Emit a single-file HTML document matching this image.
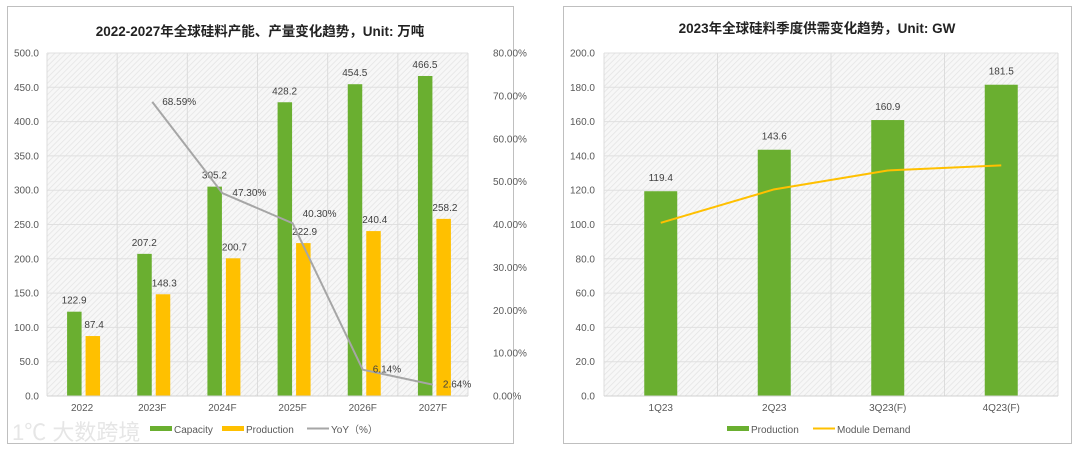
<!DOCTYPE html>
<html><head><meta charset="utf-8"><style>
html,body{margin:0;padding:0;background:#fff;width:1080px;height:451px;overflow:hidden}
svg text{font-family:"Liberation Sans","Noto Sans CJK SC",sans-serif}
</style></head><body>
<svg id="svg" width="1080" height="451" viewBox="0 0 1080 451" xmlns="http://www.w3.org/2000/svg">
<defs>
<pattern id="hatch" width="4" height="4" patternUnits="userSpaceOnUse" patternTransform="rotate(45)">
<rect width="4" height="4" fill="#f7f7f7"/><line x1="0" y1="0" x2="0" y2="4" stroke="#e4e4e4" stroke-width="1.5"/>
</pattern>
</defs>
<rect x="7.5" y="6.5" width="506" height="437" fill="#fff" stroke="#bfbfbf"/>
<rect x="563.5" y="6.5" width="508" height="437" fill="#fff" stroke="#bfbfbf"/>
<text x="260" y="36" text-anchor="middle" font-size="13.5" font-weight="bold" fill="#222">2022-2027年全球硅料产能、产量变化趋势，Unit: 万吨</text>
<text x="817" y="33" text-anchor="middle" font-size="13.5" font-weight="bold" fill="#222">2023年全球硅料季度供需变化趋势，Unit: GW</text>
<g id="left"></g><g id="right"></g>
<text x="12" y="440" font-size="22" fill="#e6e6e6">1℃ 大数跨境</text>
</svg>
<script>
const leftCats=["2022","2023F","2024F","2025F","2026F","2027F"];
const capacity=[122.9,207.2,305.2,428.2,454.5,466.5];
const production=[87.4,148.3,200.7,222.9,240.4,258.2];
const yoy=[null,68.59,47.30,40.30,6.14,2.64];
const leftTicks=[0,50,100,150,200,250,300,350,400,450,500];
const rightPctTicks=[0,10,20,30,40,50,60,70,80];
const qCats=["1Q23","2Q23","3Q23(F)","4Q23(F)"];
const qProduction=[119.4,143.6,160.9,181.5];
const qDemand=[101,120.5,131.5,134.5];
const qTicks=[0,20,40,60,80,100,120,140,160,180,200];

const NS="http://www.w3.org/2000/svg";
function mk(p,tag,attrs,txt){const e=document.createElementNS(NS,tag);for(const k in attrs)e.setAttribute(k,attrs[k]);if(txt!=null)e.textContent=txt;p.appendChild(e);return e;}
const G="#6aaf30",Y="#ffc000",GR="#a6a6a6";

// Left chart
(function(){
const g=document.getElementById('left');
const x0=47,x1=468,y0=396,y1=53;
const bw=(x1-x0)/leftCats.length;
const ys=v=>y0-(v/500)*(y0-y1), yp=v=>y0-(v/80)*(y0-y1);
let r=mk(g,'rect',{x:x0,y:y1,width:x1-x0,height:y0-y1,fill:'url(#hatch)'});

leftTicks.forEach(t=>{const y=ys(t);
 mk(g,'line',{x1:x0,x2:x1,y1:y,y2:y,stroke:'#e0e0e0'});
 let e=mk(g,'text',{x:x0-8,y:y+3.5,'text-anchor':'end','font-size':10,fill:'#595959'},t.toFixed(1));
 });
rightPctTicks.forEach(t=>{let e=mk(g,'text',{x:x1+25,y:yp(t)+3.5,'font-size':10,fill:'#595959'},t.toFixed(2)+'%');
 });
leftCats.forEach((c,i)=>{const xl=x0+i*bw,cx=xl+bw/2;
 mk(g,'line',{x1:xl,x2:xl,y1:y1,y2:y0,stroke:'#dcdcdc'});
 let b=mk(g,'rect',{x:cx-15,y:ys(capacity[i]),width:14.5,height:y0-ys(capacity[i]),fill:G});
 
 let b2=mk(g,'rect',{x:cx+3.5,y:ys(production[i]),width:14.5,height:y0-ys(production[i]),fill:Y});
 
 let l=mk(g,'text',{x:cx-8,y:ys(capacity[i])-8,'text-anchor':'middle','font-size':10,fill:'#404040'},capacity[i].toFixed(1));
 
 let l2=mk(g,'text',{x:cx+12,y:ys(production[i])-8,'text-anchor':'middle','font-size':10,fill:'#404040'},production[i].toFixed(1));
 
 let xt=mk(g,'text',{x:cx,y:y0+15,'text-anchor':'middle','font-size':10,fill:'#595959'},c);
 });
mk(g,'line',{x1:x1,x2:x1,y1:y1,y2:y0,stroke:'#dcdcdc'});
mk(g,'line',{x1:x0,x2:x1,y1:y0,y2:y0,stroke:'#d0d0d0'});
let pts=[];yoy.forEach((v,i)=>{if(v!=null)pts.push([x0+(i+.5)*bw,yp(v)]);});
let pl=mk(g,'polyline',{points:pts.map(p=>p.join(',')).join(' '),fill:'none',stroke:GR,'stroke-width':2});

yoy.forEach((v,i)=>{if(v==null)return;const x=x0+(i+.5)*bw;
 let t=mk(g,'text',{x:x+10,y:yp(v)+(i==3?-6:3),'font-size':10,fill:'#404040'},v.toFixed(2)+'%');
 });
// legend
let lg=mk(g,'g',{});
mk(lg,'rect',{x:150,y:426,width:22,height:5,fill:G});mk(lg,'text',{x:174,y:433,'font-size':10,fill:'#595959'},'Capacity');
mk(lg,'rect',{x:222,y:426,width:22,height:5,fill:Y});mk(lg,'text',{x:246,y:433,'font-size':10,fill:'#595959'},'Production');
mk(lg,'line',{x1:307,x2:329,y1:428.5,y2:428.5,stroke:GR,'stroke-width':2});mk(lg,'text',{x:331,y:433,'font-size':10,fill:'#595959'},'YoY（%）');
})();

// Right chart
(function(){
const g=document.getElementById('right');
const x0=604,x1=1058,y0=396,y1=53;
const bw=(x1-x0)/qCats.length;
const ys=v=>y0-(v/200)*(y0-y1);
let r=mk(g,'rect',{x:x0,y:y1,width:x1-x0,height:y0-y1,fill:'url(#hatch)'});

qTicks.forEach(t=>{const y=ys(t);
 mk(g,'line',{x1:x0,x2:x1,y1:y,y2:y,stroke:'#e0e0e0'});
 let e=mk(g,'text',{x:x0-9,y:y+3.5,'text-anchor':'end','font-size':10,fill:'#595959'},t.toFixed(1));
 });
qCats.forEach((c,i)=>{const xl=x0+i*bw,cx=xl+bw/2;
 mk(g,'line',{x1:xl,x2:xl,y1:y1,y2:y0,stroke:'#dcdcdc'});
 let b=mk(g,'rect',{x:cx-16.5,y:ys(qProduction[i]),width:33,height:y0-ys(qProduction[i]),fill:G});
 
 let l=mk(g,'text',{x:cx,y:ys(qProduction[i])-10,'text-anchor':'middle','font-size':10,fill:'#404040'},qProduction[i].toFixed(1));
 
 let xt=mk(g,'text',{x:cx,y:y0+15,'text-anchor':'middle','font-size':10,fill:'#595959'},c);
 });
mk(g,'line',{x1:x1,x2:x1,y1:y1,y2:y0,stroke:'#dcdcdc'});
mk(g,'line',{x1:x0,x2:x1,y1:y0,y2:y0,stroke:'#d0d0d0'});
let pl=mk(g,'polyline',{points:qDemand.map((v,i)=>(x0+(i+.5)*bw)+','+ys(v)).join(' '),fill:'none',stroke:Y,'stroke-width':2,'stroke-linejoin':'round'});

let lg=mk(g,'g',{});
mk(lg,'rect',{x:727,y:426,width:22,height:5,fill:G});mk(lg,'text',{x:751,y:433,'font-size':10,fill:'#595959'},'Production');
mk(lg,'line',{x1:813,x2:835,y1:428.5,y2:428.5,stroke:Y,'stroke-width':2});mk(lg,'text',{x:837,y:433,'font-size':10,fill:'#595959'},'Module Demand');
})();
</script>
</body></html>
